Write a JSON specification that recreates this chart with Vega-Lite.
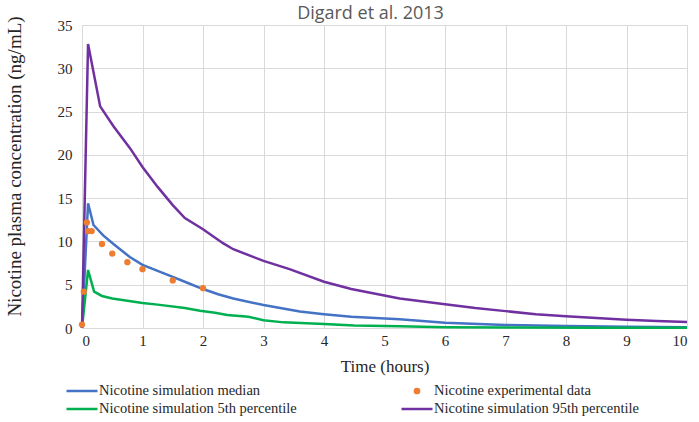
{
  "$schema": "https://vega.github.io/schema/vega-lite/v6.json",
  "width": 605,
  "height": 303,
  "autosize": "none",
  "padding": {"left": 82, "top": 25, "right": 12, "bottom": 94},
  "background": "white",
  "title": {
    "text": "Digard et al. 2013",
    "font": "Open Sans",
    "fontSize": 18,
    "fontWeight": "normal",
    "color": "#595959",
    "anchor": "middle",
    "dx": -14,
    "offset": -7
  },
  "data": {
    "values": [
      {"time": 0, "conc": 0, "series": "Nicotine simulation median"},
      {"time": 0.1, "conc": 14.4, "series": "Nicotine simulation median"},
      {"time": 0.19, "conc": 11.9, "series": "Nicotine simulation median"},
      {"time": 0.35, "conc": 10.7, "series": "Nicotine simulation median"},
      {"time": 0.52, "conc": 9.7, "series": "Nicotine simulation median"},
      {"time": 0.79, "conc": 8.2, "series": "Nicotine simulation median"},
      {"time": 1.0, "conc": 7.3, "series": "Nicotine simulation median"},
      {"time": 1.25, "conc": 6.6, "series": "Nicotine simulation median"},
      {"time": 1.5, "conc": 5.9, "series": "Nicotine simulation median"},
      {"time": 1.75, "conc": 5.2, "series": "Nicotine simulation median"},
      {"time": 2.0, "conc": 4.5, "series": "Nicotine simulation median"},
      {"time": 2.25, "conc": 3.9, "series": "Nicotine simulation median"},
      {"time": 2.5, "conc": 3.4, "series": "Nicotine simulation median"},
      {"time": 3.0, "conc": 2.65, "series": "Nicotine simulation median"},
      {"time": 3.6, "conc": 1.9, "series": "Nicotine simulation median"},
      {"time": 4.0, "conc": 1.6, "series": "Nicotine simulation median"},
      {"time": 4.45, "conc": 1.3, "series": "Nicotine simulation median"},
      {"time": 5.25, "conc": 1.0, "series": "Nicotine simulation median"},
      {"time": 6.0, "conc": 0.6, "series": "Nicotine simulation median"},
      {"time": 7.0, "conc": 0.35, "series": "Nicotine simulation median"},
      {"time": 8.0, "conc": 0.22, "series": "Nicotine simulation median"},
      {"time": 9.0, "conc": 0.14, "series": "Nicotine simulation median"},
      {"time": 10.0, "conc": 0.1, "series": "Nicotine simulation median"},

      {"time": 0, "conc": 0, "series": "Nicotine simulation 5th percentile"},
      {"time": 0.1, "conc": 6.7, "series": "Nicotine simulation 5th percentile"},
      {"time": 0.2, "conc": 4.2, "series": "Nicotine simulation 5th percentile"},
      {"time": 0.33, "conc": 3.7, "series": "Nicotine simulation 5th percentile"},
      {"time": 0.5, "conc": 3.4, "series": "Nicotine simulation 5th percentile"},
      {"time": 0.75, "conc": 3.15, "series": "Nicotine simulation 5th percentile"},
      {"time": 1.0, "conc": 2.9, "series": "Nicotine simulation 5th percentile"},
      {"time": 1.25, "conc": 2.7, "series": "Nicotine simulation 5th percentile"},
      {"time": 1.7, "conc": 2.3, "series": "Nicotine simulation 5th percentile"},
      {"time": 1.95, "conc": 2.0, "series": "Nicotine simulation 5th percentile"},
      {"time": 2.2, "conc": 1.75, "series": "Nicotine simulation 5th percentile"},
      {"time": 2.4, "conc": 1.5, "series": "Nicotine simulation 5th percentile"},
      {"time": 2.75, "conc": 1.3, "series": "Nicotine simulation 5th percentile"},
      {"time": 3.0, "conc": 0.9, "series": "Nicotine simulation 5th percentile"},
      {"time": 3.33, "conc": 0.65, "series": "Nicotine simulation 5th percentile"},
      {"time": 4.0, "conc": 0.45, "series": "Nicotine simulation 5th percentile"},
      {"time": 4.5, "conc": 0.3, "series": "Nicotine simulation 5th percentile"},
      {"time": 5.25, "conc": 0.2, "series": "Nicotine simulation 5th percentile"},
      {"time": 6.0, "conc": 0.1, "series": "Nicotine simulation 5th percentile"},
      {"time": 7.0, "conc": 0.06, "series": "Nicotine simulation 5th percentile"},
      {"time": 8.5, "conc": 0.04, "series": "Nicotine simulation 5th percentile"},
      {"time": 10.0, "conc": 0.03, "series": "Nicotine simulation 5th percentile"},

      {"time": 0, "conc": 0, "series": "Nicotine simulation 95th percentile"},
      {"time": 0.1, "conc": 32.8, "series": "Nicotine simulation 95th percentile"},
      {"time": 0.3, "conc": 25.6, "series": "Nicotine simulation 95th percentile"},
      {"time": 0.52, "conc": 23.3, "series": "Nicotine simulation 95th percentile"},
      {"time": 0.79, "conc": 20.8, "series": "Nicotine simulation 95th percentile"},
      {"time": 1.0, "conc": 18.6, "series": "Nicotine simulation 95th percentile"},
      {"time": 1.25, "conc": 16.3, "series": "Nicotine simulation 95th percentile"},
      {"time": 1.5, "conc": 14.2, "series": "Nicotine simulation 95th percentile"},
      {"time": 1.7, "conc": 12.7, "series": "Nicotine simulation 95th percentile"},
      {"time": 2.0, "conc": 11.4, "series": "Nicotine simulation 95th percentile"},
      {"time": 2.33, "conc": 9.8, "series": "Nicotine simulation 95th percentile"},
      {"time": 2.5, "conc": 9.1, "series": "Nicotine simulation 95th percentile"},
      {"time": 3.0, "conc": 7.75, "series": "Nicotine simulation 95th percentile"},
      {"time": 3.43, "conc": 6.8, "series": "Nicotine simulation 95th percentile"},
      {"time": 4.0, "conc": 5.35, "series": "Nicotine simulation 95th percentile"},
      {"time": 4.45, "conc": 4.5, "series": "Nicotine simulation 95th percentile"},
      {"time": 5.25, "conc": 3.4, "series": "Nicotine simulation 95th percentile"},
      {"time": 6.0, "conc": 2.75, "series": "Nicotine simulation 95th percentile"},
      {"time": 6.5, "conc": 2.3, "series": "Nicotine simulation 95th percentile"},
      {"time": 7.0, "conc": 1.95, "series": "Nicotine simulation 95th percentile"},
      {"time": 7.5, "conc": 1.6, "series": "Nicotine simulation 95th percentile"},
      {"time": 8.0, "conc": 1.35, "series": "Nicotine simulation 95th percentile"},
      {"time": 8.5, "conc": 1.15, "series": "Nicotine simulation 95th percentile"},
      {"time": 9.0, "conc": 0.95, "series": "Nicotine simulation 95th percentile"},
      {"time": 9.5, "conc": 0.8, "series": "Nicotine simulation 95th percentile"},
      {"time": 10.0, "conc": 0.68, "series": "Nicotine simulation 95th percentile"},

      {"time": 0, "conc": 0.4, "series": "Nicotine experimental data"},
      {"time": 0.03, "conc": 4.2, "series": "Nicotine experimental data"},
      {"time": 0.08, "conc": 12.2, "series": "Nicotine experimental data"},
      {"time": 0.1, "conc": 11.2, "series": "Nicotine experimental data"},
      {"time": 0.16, "conc": 11.2, "series": "Nicotine experimental data"},
      {"time": 0.33, "conc": 9.7, "series": "Nicotine experimental data"},
      {"time": 0.5, "conc": 8.6, "series": "Nicotine experimental data"},
      {"time": 0.75, "conc": 7.6, "series": "Nicotine experimental data"},
      {"time": 1.0, "conc": 6.8, "series": "Nicotine experimental data"},
      {"time": 1.5, "conc": 5.5, "series": "Nicotine experimental data"},
      {"time": 2.0, "conc": 4.6, "series": "Nicotine experimental data"}
    ]
  },
  "encoding": {
    "x": {
      "field": "time",
      "type": "quantitative",
      "title": "Time (hours)",
      "scale": {"domain": [0, 10], "nice": false, "zero": false},
      "axis": {"values": [0, 1, 2, 3, 4, 5, 6, 7, 8, 9, 10], "labelPadding": 5, "titlePadding": 10}
    },
    "y": {
      "field": "conc",
      "type": "quantitative",
      "title": "Nicotine plasma concentration (ng/mL)",
      "scale": {"domain": [0, 35], "nice": false},
      "axis": {"values": [0, 5, 10, 15, 20, 25, 30, 35], "labelPadding": 10, "titlePadding": 33, "titleFontSize": 19, "titleY": 141}
    },
    "color": {
      "field": "series",
      "type": "nominal",
      "scale": {
        "domain": ["Nicotine simulation median", "Nicotine experimental data", "Nicotine simulation 5th percentile", "Nicotine simulation 95th percentile"],
        "range": ["#4472C4", "#ED7D31", "#00B050", "#7030A0"]
      }
    }
  },
  "layer": [
    {
      "transform": [{"filter": "datum.series !== 'Nicotine experimental data'"}],
      "mark": {"type": "line", "strokeWidth": 2.5},
      "encoding": {
        "color": {
          "field": "series",
          "type": "nominal",
          "legend": {
            "title": null,
            "orient": "none",
            "legendX": -17,
            "legendY": 357,
            "direction": "horizontal",
            "columns": 2,
            "columnPadding": 103,
            "rowPadding": 0,
            "clipHeight": 18,
            "symbolType": "stroke",
            "symbolSize": 961,
            "symbolStrokeWidth": 2.5,
            "labelOffset": 0,
            "labelFont": "Liberation Serif",
            "labelFontSize": 14.5,
            "labelColor": "#262626",
            "labelLimit": 300,
            "encode": {
              "symbols": {
                "update": {
                  "shape": {"signal": "datum.value === 'Nicotine experimental data' ? 'circle' : 'stroke'"},
                  "size": {"signal": "datum.value === 'Nicotine experimental data' ? 18 : 961"},
                  "fill": {"signal": "datum.value === 'Nicotine experimental data' ? '#ED7D31' : 'transparent'"},
                  "stroke": {"scale": "color", "field": "value"}
                }
              }
            }
          }
        }
      }
    },
    {
      "transform": [{"filter": "datum.series === 'Nicotine experimental data'"}],
      "mark": {"type": "point", "filled": true, "size": 40, "opacity": 1},
      "encoding": {
        "color": {"field": "series", "type": "nominal", "legend": null}
      }
    }
  ],
  "config": {
    "view": {"stroke": null},
    "axis": {
      "domain": false,
      "ticks": false,
      "grid": true,
      "gridColor": "#d9d9d9",
      "gridWidth": 1,
      "labelFont": "Liberation Serif",
      "labelFontSize": 15,
      "labelColor": "#262626",
      "titleFont": "Liberation Serif",
      "titleFontSize": 17,
      "titleFontWeight": "normal",
      "titleColor": "#262626"
    }
  }
}
